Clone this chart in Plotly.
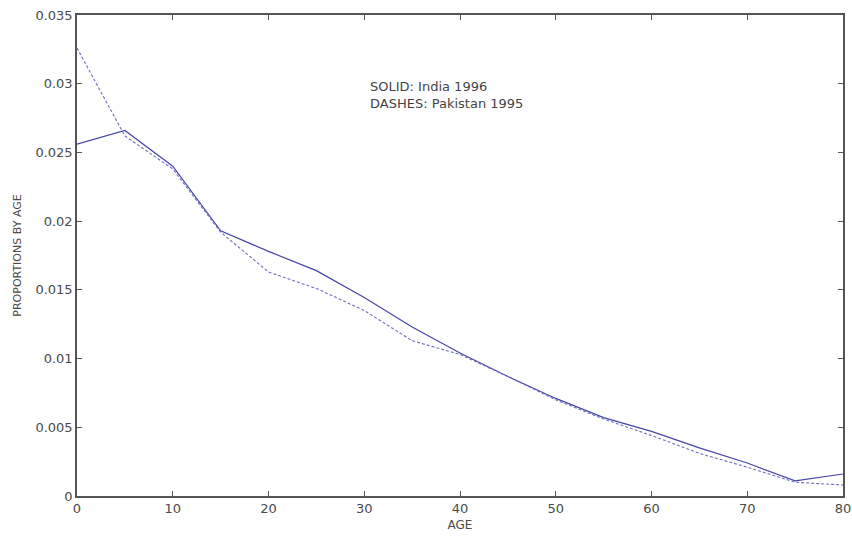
import plotly.graph_objects as go

ages = [0, 5, 10, 15, 20, 25, 30, 35, 40, 45, 50, 55, 60, 65, 70, 75, 80]
india_1996 = [0.0256, 0.0266, 0.0240, 0.0193, 0.0178, 0.0164, 0.01445, 0.0123, 0.0104,
              0.0087, 0.0071, 0.0057, 0.0047, 0.0035, 0.0024, 0.0011, 0.0016]
pakistan_1995 = [0.0326, 0.0262, 0.0238, 0.0192, 0.0163, 0.0151, 0.0135, 0.0113, 0.0103,
                 0.0087, 0.0070, 0.0056, 0.0044, 0.0031, 0.0021, 0.0010, 0.0008]
y_ticks = [0, 0.005, 0.01, 0.015, 0.02, 0.025, 0.03, 0.035]
y_tick_labels = ["0", "0.005", "0.01", "0.015", "0.02", "0.025", "0.03", "0.035"]
x_ticks = [0, 10, 20, 30, 40, 50, 60, 70, 80]
annotation_lines = ["SOLID: India 1996", "DASHES: Pakistan 1995"]

FONT = "DejaVu Sans, Liberation Sans, Arial"
text_color = "#4a4a4a"
line_color = "rgb(70,70,170)"

fig = go.Figure()
fig.add_trace(go.Scatter(x=ages, y=india_1996, mode="lines",
                         line=dict(color=line_color, width=1.2, dash="solid"),
                         name="India 1996"))
fig.add_trace(go.Scatter(x=ages, y=pakistan_1995, mode="lines",
                         line=dict(color="rgb(110,110,190)", width=1.1, dash="3px,2px"),
                         name="Pakistan 1995"))

axis_common = dict(showgrid=False, zeroline=False, showline=True, linecolor="#555555",
                   linewidth=1.5, mirror="ticks", ticks="inside", ticklen=5,
                   tickcolor="#555555", tickfont=dict(family=FONT, size=13, color=text_color))
fig.update_xaxes(range=[0, 80], tickvals=x_ticks, **axis_common,
                 title=dict(text="AGE", font=dict(family=FONT, size=12, color=text_color), standoff=5))
fig.update_yaxes(range=[0, 0.035], tickvals=y_ticks, ticktext=y_tick_labels, **axis_common,
                 title=dict(text="PROPORTIONS BY AGE", font=dict(family=FONT, size=11, color=text_color), standoff=12))

fig.add_annotation(x=30.4, y=0.0292, xref="x", yref="y", xanchor="left", yanchor="middle",
                   text="<br>".join(annotation_lines), showarrow=False, align="left",
                   font=dict(family=FONT, size=13, color="#444444"))

fig.update_layout(width=852, height=536, margin=dict(l=77, r=9, t=15, b=40, autoexpand=False),
                  plot_bgcolor="white", paper_bgcolor="white", showlegend=False)
# remove the default page margin so the figure fills the window exactly
fig.write_html("out.html", config={"displayModeBar": False},
               post_script="document.body.style.margin='0';document.body.style.overflow='hidden';")
